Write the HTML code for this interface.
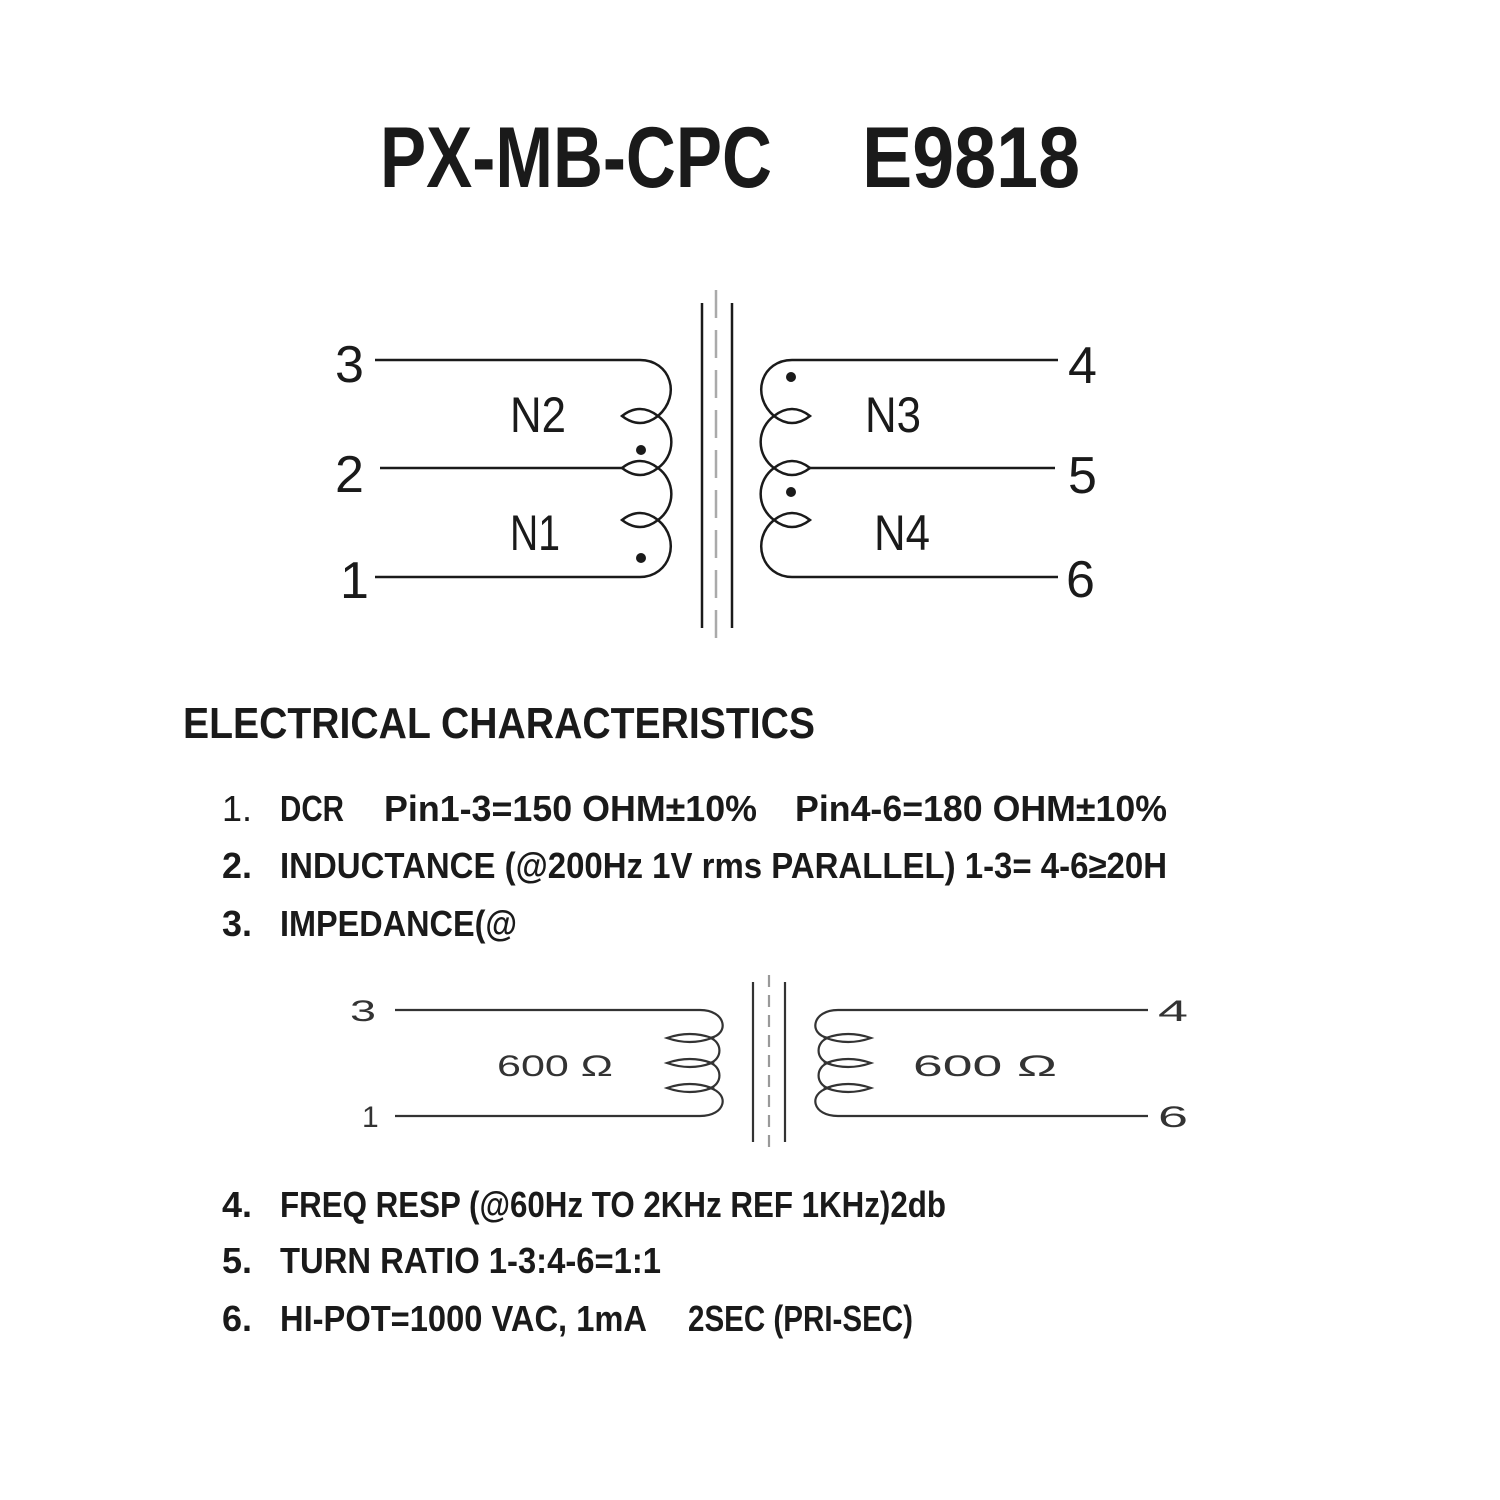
<!DOCTYPE html>
<html><head><meta charset="utf-8"><style>
html,body{margin:0;padding:0;background:#fff}
svg{display:block}
</style></head><body>
<svg width="1500" height="1500" viewBox="0 0 1500 1500" xmlns="http://www.w3.org/2000/svg" font-family="Liberation Sans, sans-serif" fill="#1a1a1a">
<!-- Title -->
<text x="380" y="187" font-size="86" font-weight="bold" textLength="392" lengthAdjust="spacingAndGlyphs">PX-MB-CPC</text>
<text x="862" y="187" font-size="86" font-weight="bold" textLength="218" lengthAdjust="spacingAndGlyphs">E9818</text>

<!-- Top transformer -->
<g fill="none" stroke="#1a1a1a" stroke-width="2.5">
 <line x1="702" y1="303" x2="702" y2="628"/>
 <line x1="732" y1="303" x2="732" y2="628"/>
 <line x1="716" y1="290" x2="716" y2="640" stroke="#aaa" stroke-dasharray="28,12"/>
 <!-- left -->
 <path d="M375,360 H640 C670,360 682,395 658,416 A32 32 0 0 1 658,468 A32 32 0 0 1 658,520 C682,540 670,577 640,577 H375"/>
 <path d="M380,468 H622"/>
 <path d="M622,416 Q640,402 658,416 Q640,430 622,416 Z"/>
 <path d="M622,468 Q640,454 658,468 Q640,482 622,468 Z"/>
 <path d="M622,520 Q640,506 658,520 Q640,534 622,520 Z"/>
 <!-- right -->
 <path d="M1058,360 H792 C762,360 750,395 774,416 A32 32 0 0 0 774,468 A32 32 0 0 0 774,520 C750,540 762,577 792,577 H1058"/>
 <path d="M810,468 H1055"/>
 <path d="M774,416 Q792,402 810,416 Q792,430 774,416 Z"/>
 <path d="M774,468 Q792,454 810,468 Q792,482 774,468 Z"/>
 <path d="M774,520 Q792,506 810,520 Q792,534 774,520 Z"/>
</g>
<circle cx="641" cy="450" r="5"/><circle cx="641" cy="558" r="5"/>
<circle cx="791" cy="377" r="5"/><circle cx="791" cy="492" r="5"/>
<g font-size="52">
 <text x="335" y="382">3</text><text x="335" y="492">2</text><text x="340" y="598">1</text>
 <text x="1068" y="383">4</text><text x="1068" y="493">5</text><text x="1066" y="597">6</text>
</g>
<g font-size="50">
 <text x="510" y="432" textLength="56" lengthAdjust="spacingAndGlyphs">N2</text>
 <text x="865" y="432" textLength="56" lengthAdjust="spacingAndGlyphs">N3</text>
 <text x="510" y="550" textLength="50" lengthAdjust="spacingAndGlyphs">N1</text>
 <text x="874" y="550" textLength="56" lengthAdjust="spacingAndGlyphs">N4</text>
</g>

<!-- Heading -->
<text x="183" y="738" font-size="44" font-weight="bold" textLength="632" lengthAdjust="spacingAndGlyphs">ELECTRICAL CHARACTERISTICS</text>

<g font-size="36" font-weight="bold">
 <text x="222" y="821" font-weight="normal">1.</text>
 <text x="280" y="821" textLength="64" lengthAdjust="spacingAndGlyphs">DCR</text>
 <text x="384" y="821" textLength="373" lengthAdjust="spacingAndGlyphs">Pin1-3=150 OHM±10%</text>
 <text x="795" y="821" textLength="372" lengthAdjust="spacingAndGlyphs">Pin4-6=180 OHM±10%</text>
 <text x="222" y="878">2.</text>
 <text x="280" y="878" textLength="887" lengthAdjust="spacingAndGlyphs">INDUCTANCE (@200Hz 1V rms PARALLEL) 1-3= 4-6≥20H</text>
 <text x="222" y="936">3.</text>
 <text x="280" y="936" textLength="237" lengthAdjust="spacingAndGlyphs">IMPEDANCE(@</text>
 <text x="222" y="1217">4.</text>
 <text x="280" y="1217" textLength="666" lengthAdjust="spacingAndGlyphs">FREQ RESP (@60Hz TO 2KHz REF 1KHz)2db</text>
 <text x="222" y="1273">5.</text>
 <text x="280" y="1273" textLength="381" lengthAdjust="spacingAndGlyphs">TURN RATIO 1-3:4-6=1:1</text>
 <text x="222" y="1331">6.</text>
 <text x="280" y="1331" textLength="367" lengthAdjust="spacingAndGlyphs">HI-POT=1000 VAC, 1mA</text>
 <text x="688" y="1331" textLength="225" lengthAdjust="spacingAndGlyphs">2SEC (PRI-SEC)</text>
</g>

<!-- Bottom transformer -->
<g fill="none" stroke="#333" stroke-width="2.2">
 <line x1="753" y1="982" x2="753" y2="1142"/>
 <line x1="785" y1="982" x2="785" y2="1142"/>
 <line x1="769" y1="975" x2="769" y2="1147" stroke="#999" stroke-dasharray="12,8"/>
 <path d="M395,1010 H700 C726,1010 730,1034 710,1038 A13 13 0 0 1 710,1063 A13 13 0 0 1 710,1088 C730,1094 726,1116 700,1116 H395"/>
 <path d="M667,1038 Q690,1030 712,1038 Q690,1046 667,1038 Z"/>
 <path d="M667,1063 Q690,1055 712,1063 Q690,1071 667,1063 Z"/>
 <path d="M667,1088 Q690,1080 712,1088 Q690,1096 667,1088 Z"/>
 <path d="M1148,1010 H838 C812,1010 808,1034 828,1038 A13 13 0 0 0 828,1063 A13 13 0 0 0 828,1088 C808,1094 812,1116 838,1116 H1148"/>
 <path d="M826,1038 Q848,1030 871,1038 Q848,1046 826,1038 Z"/>
 <path d="M826,1063 Q848,1055 871,1063 Q848,1071 826,1063 Z"/>
 <path d="M826,1088 Q848,1080 871,1088 Q848,1096 826,1088 Z"/>
</g>
<g font-size="30" fill="#333">
 <text x="497" y="1076" textLength="116" lengthAdjust="spacingAndGlyphs">600 Ω</text>
 <text x="913" y="1076" textLength="144" lengthAdjust="spacingAndGlyphs">600 Ω</text>
 <text x="350" y="1021" textLength="26" lengthAdjust="spacingAndGlyphs">3</text>
 <text x="362" y="1127">1</text>
 <text x="1158" y="1021" textLength="30" lengthAdjust="spacingAndGlyphs">4</text>
 <text x="1158" y="1127" textLength="30" lengthAdjust="spacingAndGlyphs">6</text>
</g>
</svg>
</body></html>
